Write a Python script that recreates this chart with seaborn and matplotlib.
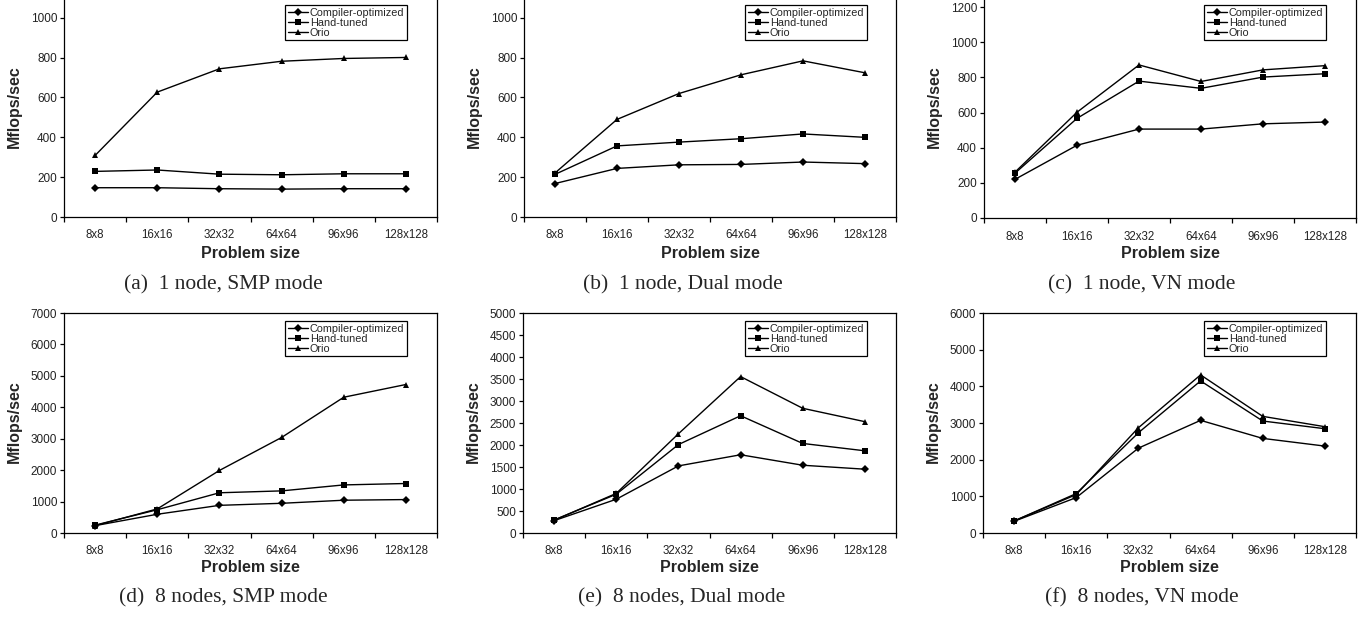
import matplotlib
matplotlib.use("Agg")
import matplotlib.pyplot as plt
import seaborn as sns
import pandas as pd
from matplotlib.ticker import FixedLocator

sizes = ["8x8", "16x16", "32x32", "64x64", "96x96", "128x128"]
series_names = ["Compiler-optimized", "Hand-tuned", "Orio"]

a_compiler = [147, 147, 142, 140, 142, 142]
a_hand = [229, 236, 215, 212, 217, 217]
a_orio = [309, 627, 744, 782, 796, 801]

b_compiler = [168, 244, 262, 264, 276, 268]
b_hand = [214, 357, 376, 393, 417, 400]
b_orio = [221, 490, 620, 714, 784, 724]

c_compiler = [220, 414, 506, 506, 536, 546]
c_hand = [255, 567, 779, 738, 802, 821]
c_orio = [261, 602, 871, 777, 843, 867]

d_compiler = [234, 596, 880, 945, 1043, 1064]
d_hand = [250, 740, 1280, 1340, 1530, 1575]
d_orio = [234, 766, 1990, 3040, 4320, 4725]

e_compiler = [280, 767, 1525, 1778, 1540, 1450]
e_hand = [296, 881, 2010, 2665, 2035, 1868]
e_orio = [289, 900, 2255, 3555, 2834, 2530]

f_compiler = [319, 966, 2315, 3072, 2580, 2370]
f_hand = [328, 1076, 2735, 4148, 3054, 2844]
f_orio = [328, 1048, 2871, 4312, 3181, 2899]

captions = ["(a)  1 node, SMP mode", "(b)  1 node, Dual mode", "(c)  1 node, VN mode",
            "(d)  8 nodes, SMP mode", "(e)  8 nodes, Dual mode", "(f)  8 nodes, VN mode"]
y_max = [1200, 1200, 1400, 7000, 5000, 6000]
y_tick_top = [1000, 1000, 1200, 7000, 5000, 6000]
y_step = [200, 200, 200, 1000, 500, 1000]

panels = [
    (a_compiler, a_hand, a_orio),
    (b_compiler, b_hand, b_orio),
    (c_compiler, c_hand, c_orio),
    (d_compiler, d_hand, d_orio),
    (e_compiler, e_hand, e_orio),
    (f_compiler, f_hand, f_orio),
]

sns.set_style("ticks")
plt.rcParams["font.family"] = ["Liberation Sans", "DejaVu Sans"]
plt.rcParams["axes.linewidth"] = 0.9

W, H = 1372, 617
fig = plt.figure(figsize=(W / 100, H / 100), dpi=100)

# layout in pixels: left, right, top, bottom
boxes = [(64, 437, -22, 217), (524, 896, -22, 217), (984, 1356, -28, 218),
         (64, 437, 313, 533), (523, 896, 313, 533), (983, 1356, 313, 533)]
legend_corner = [(407, 5), (867, 5), (1326, 5), (407, 321), (867, 321), (1326, 321)]
ylabel_y = [107, 107, 107, 422, 422, 422]
xlabel_y = [253, 253, 253, 568, 568, 568]
caption_pos = [(223, 285), (683, 285), (1142, 285), (223, 598), (682, 598), (1142, 598)]

markers = {"Compiler-optimized": "D", "Hand-tuned": "s", "Orio": "^"}
msizes = {"Compiler-optimized": 3.8, "Hand-tuned": 4.1, "Orio": 4.6}

for i, (vals, cap) in enumerate(zip(panels, captions)):
    l, r, t, b = boxes[i]
    ax = fig.add_axes([l / W, 1 - b / H, (r - l) / W, (b - t) / H])
    rows = []
    for name, v in zip(series_names, vals):
        for s, y in zip(sizes, v):
            rows.append({"size": s, "value": y, "series": name})
    df = pd.DataFrame(rows)
    sns.lineplot(data=df, x="size", y="value", hue="series", style="series",
                 markers=markers, dashes=False, palette=["black"] * 3,
                 linewidth=1.0, markeredgewidth=0, ax=ax, sort=False)
    for line, name in zip(ax.get_lines()[:3], series_names):
        line.set_markersize(msizes[name])
    handles, labels = ax.get_legend_handles_labels()
    for h, lab in zip(handles, labels):
        if lab in msizes:
            h.set_markersize(msizes[lab])
    ax.get_legend().remove()
    lx, ly = legend_corner[i]
    leg = ax.legend(handles, labels, loc="upper right",
                    bbox_to_anchor=(lx / W, 1 - ly / H), bbox_transform=fig.transFigure,
                    fontsize=7.8, frameon=True, fancybox=False, framealpha=1,
                    edgecolor="black", borderpad=0.25, labelspacing=0.0,
                    handlelength=1.9, handletextpad=0.15, borderaxespad=0)
    leg.get_frame().set_linewidth(0.9)

    ax.set_xlim(-0.5, len(sizes) - 0.5)
    ax.set_ylim(0, y_max[i])
    ax.yaxis.set_major_locator(FixedLocator(list(range(0, y_tick_top[i] + 1, y_step[i]))))
    ax.set_xticks(range(len(sizes)))
    ax.set_xticklabels(sizes)
    ax.xaxis.set_minor_locator(FixedLocator([k - 0.5 for k in range(len(sizes) + 1)]))
    ax.tick_params(axis="x", which="major", length=0, pad=9, labelsize=8.3, colors="#222222")
    ax.tick_params(axis="x", which="minor", length=3.5, width=0.9, direction="out", color="black")
    ax.tick_params(axis="y", which="major", length=3, width=0.9, direction="out",
                   pad=2, labelsize=8.5, labelcolor="#222222", color="black")
    for sp in ax.spines.values():
        sp.set_visible(True)
        sp.set_color("black")
        sp.set_linewidth(0.9)
    ax.grid(False)

    ax.set_xlabel("Problem size", fontsize=11.5, fontweight="bold")
    ax.set_ylabel("Mflops/sec", fontsize=11.5, fontweight="bold")
    ax.xaxis.set_label_coords(0.5, -(xlabel_y[i] - b) / (b - t))
    ax.xaxis.label.set_va("center")
    ax.yaxis.set_label_coords(-50 / (r - l), (b - ylabel_y[i]) / (b - t))
    ax.yaxis.label.set_va("center")

    cx, cy = caption_pos[i]
    fig.text(cx / W, 1 - cy / H, cap, ha="center", va="center",
             fontsize=15.5, family=["Liberation Serif", "DejaVu Serif"])

fig.savefig("out.png", dpi=100, facecolor="white")
